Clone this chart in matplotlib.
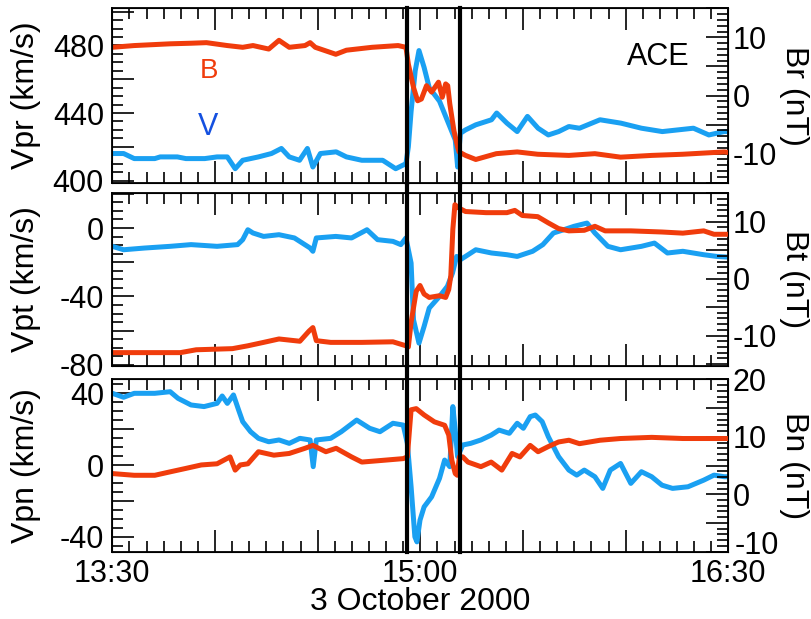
import numpy as np
import matplotlib
matplotlib.use('Agg')
import matplotlib.pyplot as plt
import matplotlib.transforms as mtransforms
from matplotlib.ticker import MultipleLocator, FuncFormatter

plt.rcParams['font.family'] = ['Liberation Sans', 'DejaVu Sans']

# time axis: minutes after 13:30 UT, 3 October 2000
xtick_pos = [0, 90, 180]
xtick_lab = ['13:30', '15:00', '16:30']
# the two vertical boundaries (minutes after 13:30)
bounds = [86.1, 101.6]

# --- top panel: Vpr (km/s), Br (nT)
t_vpr = [0, 3.3, 6.4, 12.4, 14, 19, 21.5, 27, 30.6, 33.6, 35.9, 38.1, 42.7, 46.5, 49.4,
         51.7, 54.7, 57, 58.6, 60.8, 65.4, 68.4, 72.9, 79, 82.8, 85.8, 86.5, 87.3, 88.5,
         89.6, 91.1, 92.6, 95.6, 98.6, 100.2, 100.9, 101.7, 103.2, 106.2, 110.8, 112.3,
         115.3, 118.3, 121.3, 124.4, 127.4, 130.4, 133.4, 136.5, 142.5, 148.6, 154.6,
         160.7, 169.8, 174.3, 178.8, 180]
vpr = [416, 416, 413, 413, 414, 414, 413, 413, 414, 414, 407, 412, 414, 416, 419,
       414, 412, 419, 408, 416, 417, 414, 412, 412, 407, 410, 420, 441, 465,
       477, 467, 455, 447, 432, 424, 408, 428, 430, 433, 436, 440,
       434, 429, 438, 431, 427, 429, 432, 431, 436, 434, 431,
       429, 431, 427, 429, 429]
t_br = [0, 6.4, 16.9, 23.0, 27.5, 33.6, 38.1, 41.1, 45.7, 48.7, 51.7, 56.3, 57.8, 59.3,
        65.3, 68.4, 75.9, 83.5, 85.8, 86.5, 88.0, 89.2, 90.3, 91.8, 93.3, 95.3, 96.4,
        97.4, 98.0, 98.6, 99.8, 100.9, 101.3, 103.2, 106.2, 109.2, 112.2, 118.3, 124.3,
        133.4, 141.0, 148.5, 157.6, 166.7, 178.8, 180]
br = [8.3, 8.6, 8.9, 9.0, 9.1, 8.6, 8.3, 8.6, 8.0, 9.5, 8.3, 8.6, 9.1, 8.3,
      7.1, 7.8, 8.3, 8.6, 8.3, 5.4, 1.4, -0.9, -0.6, 1.7, 0.6, 2.3, -0.3,
      2.0, 1.7, -1.4, -6.0, -8.9, -9.7, -10.3, -11.0, -10.5, -10.0, -9.7, -10.1,
      -10.3, -10.0, -10.6, -10.3, -10.1, -9.7, -9.8]

# --- middle panel: Vpt (km/s), Bt (nT)
t_vpt = [0, 3.3, 9.4, 16.9, 23.0, 30.6, 36.6, 38.1, 39.6, 41.1, 44.2, 48.7, 53.2, 57.8,
         58.6, 59.6, 65.3, 69.9, 74.4, 77.5, 82.0, 84.3, 85.8, 87.3, 88.0, 89.6, 91.1,
         92.6, 95.6, 97.9, 99.4, 100.6, 101.7, 103.2, 106.2, 110.8, 115.3, 118.3, 122.8,
         125.8, 128.9, 131.9, 134.9, 138.7, 141.0, 144.8, 148.5, 154.6, 158.4, 162.2,
         166.7, 172.8, 176.6, 180]
vpt = [-10.7, -12.7, -11.7, -10.7, -9.7, -10.7, -9.7, -6.8, -1.0, -2.9, -4.9, -3.9, -5.8, -11.7,
       -13.6, -5.8, -4.9, -5.8, -1.0, -6.8, -7.8, -9.7, -5.8, -20.5, -53.6, -67.3, -57.5,
       -46.8, -40.0, -34.1, -26.3, -16.6, -18.5, -16.6, -12.7, -14.6, -15.6, -16.6, -13.6,
       -9.7, -2.9, -1.0, 1.0, 2.9, -2.9, -10.7, -12.7, -10.7, -8.8, -14.6,
       -13.6, -15.6, -16.6, -17.0]
t_bt = [0, 19.9, 24.5, 35.1, 39.6, 44.2, 48.7, 54.8, 57.5, 58.6, 59.6, 63.8, 72.9, 82.0,
        85.8, 86.5, 87.3, 88.8, 89.9, 91.1, 92.6, 95.6, 97.4, 98.3, 98.9, 99.5, 100.1,
        101.0, 103.2, 109.2, 115.3, 117.6, 119.8, 124.3, 127.4, 130.4, 133.4, 137.9, 141.0,
        144.0, 151.5, 160.6, 166.7, 172.8, 175.8, 180]
bt = [-13.0, -13.0, -12.5, -12.3, -11.8, -11.2, -10.6, -11.0, -9.2, -8.6, -10.9, -11.2, -11.2, -11.1,
      -11.8, -12.0, -7.7, -2.2, -1.2, -2.7, -3.3, -3.0, -3.3, -1.9, 0.5, 8.7, 13.0,
      12.5, 11.8, 11.6, 11.6, 12.0, 11.1, 10.9, 9.8, 8.8, 8.4, 8.5, 9.2,
      8.4, 8.4, 8.2, 8.0, 8.4, 7.8, 7.8]

# --- bottom panel: Vpn (km/s), Bn (nT)
t_vpn = [0, 3.3, 6.4, 12.4, 16.9, 19.2, 23.0, 26.8, 30.6, 32.1, 33.6, 35.4, 36.9, 38.1,
         40.4, 42.7, 45.7, 48.7, 51.7, 54.8, 57.8, 58.7, 59.6, 63.8, 66.9, 71.4, 75.2,
         78.2, 82.0, 85.0, 86.2, 87.3, 88.4, 89.0, 89.9, 91.1, 93.3, 95.6, 97.1, 98.6,
         99.5, 100.1, 100.9, 102.4, 104.7, 107.7, 110.7, 113.0, 116.0, 118.3, 120.1,
         122.1, 123.6, 125.6, 127.4, 130.4, 133.4, 135.7, 137.9, 141.0, 143.3, 145.5,
         148.5, 151.5, 154.6, 157.6, 160.6, 163.7, 168.2, 172.8, 175.8, 178.8, 180]
vpn = [40.0, 37.8, 40.0, 40.0, 40.9, 37.2, 33.5, 32.6, 34.4, 38.5, 34.4, 39.1, 30.7, 24.2,
       18.6, 14.9, 13.0, 14.0, 12.1, 14.9, 14.0, -0.9, 14.0, 14.9, 18.6, 25.1, 20.5,
       18.6, 23.3, 22.3, 12.1, -12.1, -40.0, -42.8, -30.7, -23.3, -17.7, -7.4, 2.8, -0.9,
       32.6, 21.4, 4.7, 11.2, 12.1, 14.0, 16.7, 19.5, 17.7, 23.3, 20.5,
       27.0, 27.9, 24.2, 15.8, 4.7, -2.8, -5.6, -2.8, -6.5, -13.0, -2.8,
       0.9, -10.2, -3.7, -6.5, -11.2, -13.0, -12.1, -8.4, -5.6, -6.5, -6.5]
t_bn = [0, 6.4, 12.4, 16.9, 21.5, 26.0, 30.6, 34.4, 35.9, 37.4, 39.6, 42.7, 47.2, 51.7,
        56.3, 58.6, 62.4, 65.4, 69.9, 72.9, 79.0, 85.0, 86.2, 87.3, 88.8, 91.1, 94.1,
        97.1, 98.3, 99.2, 100.2, 100.8, 101.4, 102.4, 103.9, 107.7, 110.7, 113.8, 116.8,
        119.1, 122.1, 124.4, 127.4, 130.4, 133.4, 136.5, 142.5, 148.5, 157.6, 166.7,
        178.8, 180]
bn = [3.6, 3.3, 3.3, 3.9, 4.5, 5.1, 5.3, 6.5, 4.2, 5.1, 5.3, 7.4, 6.8, 7.1,
      8.0, 8.5, 7.4, 8.0, 6.5, 5.6, 5.9, 6.2, 6.5, 14.7, 14.9, 13.8, 12.6,
      12.0, 10.3, 5.9, 3.6, 3.3, 6.5, 6.5, 5.6, 4.8, 5.6, 4.2, 7.1,
      6.5, 8.5, 7.4, 8.3, 9.1, 9.4, 8.8, 9.4, 9.7, 9.9, 9.7,
      9.7, 9.7]

RED = '#f03c0c'
BLUE = '#1aa0f2'

panels = [
    (t_vpr, vpr, t_br, br, 'Vpr (km/s)', 'Br (nT)', (398.7, 502), (-15, 15), [400, 440, 480]),
    (t_vpt, vpt, t_bt, bt, 'Vpt (km/s)', 'Bt (nT)', (-80.5, 20.3), (-15.3, 15), [-80, -40, 0]),
    (t_vpn, vpn, t_bn, bn, 'Vpn (km/s)', 'Bn (nT)', (-48.3, 47.8), (-10, 20), [-40, 0, 40]),
]

fig = plt.figure(figsize=(8.11, 6.19), dpi=100)
rects = [[0.1385, 0.7048, 0.7596, 0.2817],
         [0.1385, 0.4092, 0.7596, 0.2785],
         [0.1385, 0.1087, 0.7596, 0.2785]]
# how far each vertical line pokes up out of its panel to bridge the gap
vl_top = [1.0, 1.065, 1.08]

for i, (tv, v, tb, b, vlab, blab, vlim, blim, vlabs) in enumerate(panels):
    ax = fig.add_axes(rects[i])
    ax2 = ax.twinx()
    ax.plot(tv, v, color=BLUE, lw=3.6, zorder=2)
    ax2.plot(tb, b, color=RED, lw=3.6, zorder=2)

    ax.set_xlim(0, 180)
    ax.set_ylim(*vlim)
    ax2.set_ylim(*blim)

    ax.xaxis.set_major_locator(MultipleLocator(30))
    ax.xaxis.set_minor_locator(MultipleLocator(5))
    ax.yaxis.set_major_locator(MultipleLocator(20))
    ax.yaxis.set_minor_locator(MultipleLocator(5))
    ax.yaxis.set_major_formatter(FuncFormatter(
        lambda y, p, keep=vlabs: '%d' % round(y) if round(y) in keep else ''))
    ax2.yaxis.set_major_locator(MultipleLocator(5))
    ax2.yaxis.set_minor_locator(MultipleLocator(1))
    # the lowest right label of the bottom panel sits a bit higher (drawn below)
    lo = blim[0] if i == 2 else None
    ax2.yaxis.set_major_formatter(FuncFormatter(
        lambda y, p, lo=lo: '%d' % round(y) if (round(y) % 10 == 0 and round(y) != lo) else ''))

    if i == 2:
        ax.xaxis.set_major_formatter(FuncFormatter(
            lambda x, p: xtick_lab[xtick_pos.index(int(round(x)))] if int(round(x)) in xtick_pos else ''))
        ax.set_xlabel('3 October 2000', fontsize=23, labelpad=-1)
        off = mtransforms.offset_copy(ax2.get_yaxis_transform(), fig=fig, x=4.3, y=4, units='points')
        ax2.text(1.0, blim[0], '%d' % blim[0], transform=off, ha='left', va='center', fontsize=22)
    else:
        ax.tick_params(axis='x', labelbottom=False)

    ax.tick_params(axis='both', which='both', direction='in', top=True, right=False,
                   labelsize=22, width=1.2)
    ax.tick_params(axis='both', which='major', length=16)
    ax.tick_params(axis='both', which='minor', length=8)
    ax.tick_params(axis='x', which='major', pad=5)
    ax.tick_params(axis='y', which='major', pad=6)
    ax2.tick_params(axis='y', which='both', direction='in', labelsize=22, width=1.2, pad=3)
    ax2.tick_params(axis='y', which='major', length=16)
    ax2.tick_params(axis='y', which='minor', length=8)

    for sp in ax.spines.values():
        sp.set_linewidth(1.3)

    ax.text(-0.14, 0.5, vlab, transform=ax.transAxes, rotation=90,
            ha='center', va='center', fontsize=23)
    ax.text(1.107, 0.5, blab, transform=ax.transAxes, rotation=270,
            ha='center', va='center', fontsize=23)

    for tl in bounds:
        ax2.axvline(tl, ymin=0, ymax=vl_top[i], color='black', lw=3, clip_on=False, zorder=5)

    if i == 0:
        ax.text(0.157, 0.64, 'B', color=RED, transform=ax.transAxes,
                ha='center', va='center', fontsize=20)
        ax.text(0.155, 0.32, 'V', color='#1450e0', transform=ax.transAxes,
                ha='center', va='center', fontsize=22)
        ax.text(0.886, 0.72, 'ACE', transform=ax.transAxes,
                ha='center', va='center', fontsize=22)

fig.savefig('out.png', dpi=100)
